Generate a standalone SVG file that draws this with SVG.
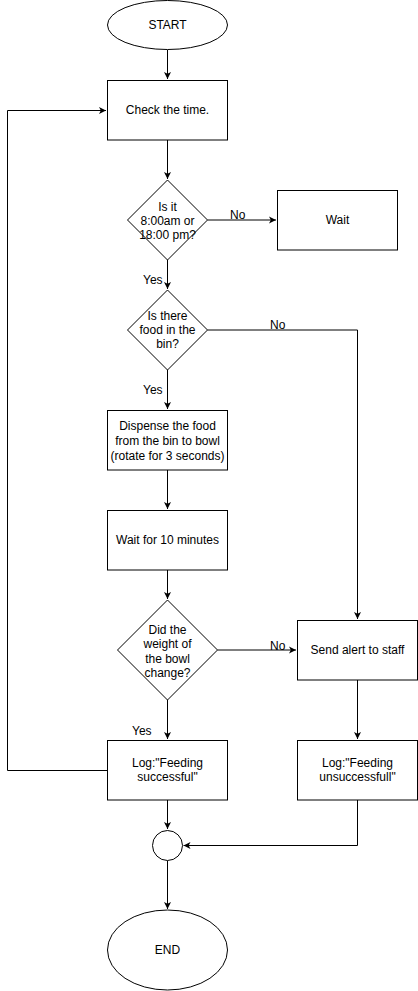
<svg xmlns="http://www.w3.org/2000/svg" width="418" height="991" viewBox="0 0 418 991">
<style>
.s{fill:#fff;stroke:#000;stroke-width:1}
.c{fill:none;stroke:#000;stroke-width:1}
text{font-family:"Liberation Sans",Arial,sans-serif;font-size:12px;fill:#000;text-anchor:middle}
.l{text-anchor:start}
</style>
<defs>
<marker id="a" markerWidth="8" markerHeight="8" refX="7" refY="4" orient="auto" markerUnits="userSpaceOnUse">
<path d="M0,0.5 L7,4 L0,7.5 L1.8,4 z" fill="#000"/>
</marker>
</defs>
<rect width="418" height="991" fill="#fff"/>
<g id="connectors">
<path class="c" d="M167.5,50 V79" marker-end="url(#a)"/>
<path class="c" d="M167.5,140 V179" marker-end="url(#a)"/>
<path class="c" d="M207.5,220 H276" marker-end="url(#a)"/>
<path class="c" d="M167.5,260 V289" marker-end="url(#a)"/>
<path class="c" d="M207.5,330 H357.5 V619" marker-end="url(#a)"/>
<path class="c" d="M167.5,370 V409" marker-end="url(#a)"/>
<path class="c" d="M167.5,470 V509" marker-end="url(#a)"/>
<path class="c" d="M167.5,570 V599" marker-end="url(#a)"/>
<path class="c" d="M217.5,650 H296" marker-end="url(#a)"/>
<path class="c" d="M167.5,700 V739" marker-end="url(#a)"/>
<path class="c" d="M357.5,680 V739" marker-end="url(#a)"/>
<path class="c" d="M167.5,800 V829" marker-end="url(#a)"/>
<path class="c" d="M357.5,800 V845.5 H183.5" marker-end="url(#a)"/>
<path class="c" d="M167.5,860.5 V909" marker-end="url(#a)"/>
<path class="c" d="M107.5,770.5 H7.5 V110.5 H106" marker-end="url(#a)"/>
<text class="l" x="230" y="219">No</text>
<text class="l" x="143" y="284">Yes</text>
<text class="l" x="270" y="329">No</text>
<text class="l" x="143" y="394">Yes</text>
<text class="l" x="270" y="650">No</text>
<text class="l" x="132" y="735">Yes</text>
</g>
<g id="start">
<ellipse class="s" cx="167.5" cy="25" rx="60" ry="24.5"/>
<text x="167.5" y="29">START</text>
</g>
<g id="check">
<rect class="s" x="107.5" y="80.5" width="120" height="59.5"/>
<text x="167.5" y="114">Check the time.</text>
</g>
<g id="isTime">
<path class="s" d="M167.5,180 L207.5,220 L167.5,260 L127.5,220 z"/>
<text x="167.5" y="211">Is it</text>
<text x="167.5" y="225">8:00am or</text>
<text x="167.5" y="239">18:00 pm?</text>
</g>
<g id="wait">
<rect class="s" x="277.5" y="190.5" width="120" height="59.5"/>
<text x="337.5" y="224">Wait</text>
</g>
<g id="food">
<path class="s" d="M167.5,290 L207.5,330 L167.5,370 L127.5,330 z"/>
<text x="167.5" y="320">Is there</text>
<text x="167.5" y="334">food in the</text>
<text x="167.5" y="348">bin?</text>
</g>
<g id="dispense">
<rect class="s" x="107.5" y="410.5" width="120" height="59.5"/>
<text x="167.5" y="430">Dispense the food</text>
<text x="167.5" y="445">from the bin to bowl</text>
<text x="167.5" y="460">(rotate for 3 seconds)</text>
</g>
<g id="wait10">
<rect class="s" x="107.5" y="510.5" width="120" height="59.5"/>
<text x="167.5" y="544">Wait for 10 minutes</text>
</g>
<g id="weight">
<path class="s" d="M167.5,600 L217.5,650 L167.5,700 L117.5,650 z"/>
<text x="167.5" y="634">Did the</text>
<text x="167.5" y="648">weight of</text>
<text x="167.5" y="663">the bowl</text>
<text x="167.5" y="677">change?</text>
</g>
<g id="alert">
<rect class="s" x="297.5" y="620.5" width="120" height="59.5"/>
<text x="357.5" y="654">Send alert to staff</text>
</g>
<g id="logOk">
<rect class="s" x="107.5" y="740.5" width="120" height="59.5"/>
<text x="167.5" y="767">Log:"Feeding</text>
<text x="167.5" y="781">successful"</text>
</g>
<g id="logFail">
<rect class="s" x="297.5" y="740.5" width="120" height="59.5"/>
<text x="357.5" y="767">Log:"Feeding</text>
<text x="357.5" y="781">unsuccessfull"</text>
</g>
<g id="merge">
<circle class="s" cx="167.5" cy="845.5" r="15"/>
</g>
<g id="end">
<ellipse class="s" cx="167.5" cy="950" rx="60" ry="40"/>
<text x="167.5" y="954">END</text>
</g>
</svg>
